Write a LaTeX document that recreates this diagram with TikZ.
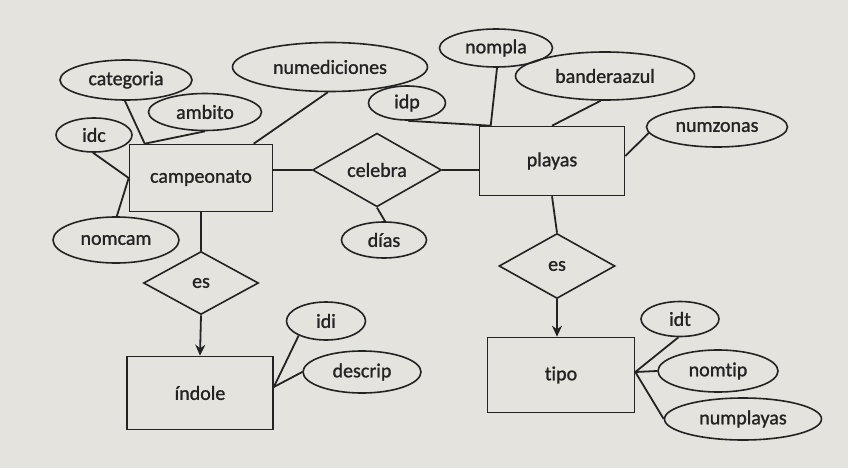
\documentclass[tikz,border=0pt]{standalone}
\usepackage{fontspec}
\setmainfont{Carlito}[Ligatures=NoCommon, FakeBold=1.2]
\usetikzlibrary{shapes.geometric,arrows.meta,calc}
\definecolor{paper}{RGB}{228,227,222}
\definecolor{ink}{RGB}{35,35,35}
\tikzset{
  every node/.style={font=\fontsize{20}{22}\selectfont, text=ink},
  ent/.style={draw=ink, line width=1.6pt, rectangle, inner sep=0pt},
  attr/.style={draw=ink, line width=1.6pt, ellipse, inner sep=0pt},
  rel/.style={draw=ink, line width=1.6pt, diamond, inner sep=0pt},
  link/.style={draw=ink, line width=1.8pt},
  isa/.style={draw=ink, line width=1.8pt, -{Stealth[length=11pt,width=10pt]}}
}
\begin{document}
\begin{tikzpicture}[x=1pt,y=-1pt]
\fill[paper] (0,0) rectangle (848,468);
\useasboundingbox (0,0) rectangle (848,468);
% entities
\node[ent, minimum width=143pt, minimum height=67pt] (camp) at (201,178) {campeonato};
\node[ent, minimum width=145pt, minimum height=69pt] (playas) at (552,161) {playas};
\node[ent, minimum width=146pt, minimum height=73pt] (indole) at (200,393) {índole};
\node[ent, minimum width=147pt, minimum height=75pt] (tipo) at (561,375) {tipo};
% relationships
\node[rel, minimum width=129pt, minimum height=62pt] (celebra) at (377,170) {celebra};
\node[rel, minimum width=115pt, minimum height=63pt] (es1) at (201,283) {es};
\node[rel, minimum width=116pt, minimum height=65pt] (es2) at (557,266) {es};
% attributes
\node[attr, minimum width=132pt, minimum height=40pt] (categoria) at (126,80) {categoria};
\node[attr, minimum width=113pt, minimum height=37pt] (ambito) at (205,112) {ambito};
\node[attr, minimum width=76pt, minimum height=34pt] (idc) at (94,135) {idc};
\node[attr, minimum width=195pt, minimum height=49pt] (numed) at (330,67) {numediciones};
\node[attr, minimum width=126pt, minimum height=46pt] (nomcam) at (116,240) {nomcam};
\node[attr, minimum width=85pt, minimum height=36pt] (dias) at (384,240) {días};
\node[attr, minimum width=77pt, minimum height=34pt] (idp) at (407,103) {idp};
\node[attr, minimum width=113pt, minimum height=38pt] (nompla) at (496,48) {nompla};
\node[attr, minimum width=179pt, minimum height=48pt] (bandera) at (605,76) {banderaazul};
\node[attr, minimum width=141pt, minimum height=40pt] (numzonas) at (717,127) {numzonas};
\node[attr, minimum width=79pt, minimum height=38pt] (idi) at (326,321) {idi};
\node[attr, minimum width=118pt, minimum height=42pt] (descrip) at (362,372) {descrip};
\node[attr, minimum width=78pt, minimum height=35pt] (idt) at (680,319) {idt};
\node[attr, minimum width=120pt, minimum height=42pt] (nomtip) at (718,371) {nomtip};
\node[attr, minimum width=157pt, minimum height=42pt] (numplayas) at (743,419) {numplayas};
% helper points
\coordinate (campTL) at ($(camp.north west)+(16,0)$);
\coordinate (campTR) at ($(camp.north west)+(125,0)$);
\coordinate (playTL) at ($(playas.north west)+(12,0)$);
\coordinate (playR) at ($(playas.east)+(0,-5)$);
\coordinate (indR) at ($(indole.east)+(0,-6)$);
\coordinate (tipR) at ($(tipo.east)+(0,-3)$);
% campeonato attributes
\draw[link] (categoria.-93) -- (campTL);
\draw[link] (ambito.-90) -- (campTL);
\draw[link] (numed.-95) -- (campTR);
\draw[link] (idc.-93) -- (camp.west);
\draw[link] (nomcam.88) -- (camp.west);
% celebra
\draw[link] (celebra.west) -- (celebra.west -| camp.east);
\draw[link] (celebra.east) -- (celebra.east -| playas.west);
\draw[link] (celebra.south) -- (dias.87);
% playas attributes
\draw[link] (idp.-87) -- (playTL);
\draw[link] (nompla.-87) -- (playTL);
\draw[link] (bandera.-100) -- (playas.north);
\draw[link] (numzonas.185) -- (playR);
% es relationships
\draw[link] (camp.south) -- (es1.north);
\draw[isa] (es1.south) -- (indole.north);
\draw[link] (playas.south) -- (es2.north);
\draw[isa] (es2.south) -- (es2.south |- tipo.north);
% indole attributes
\draw[link] (idi.208) -- (indR);
\draw[link] (descrip.180) -- (indR);
% tipo attributes
\draw[link] (idt.-95) -- (tipR);
\draw[link] (nomtip.180) -- (tipR);
\draw[link] (numplayas.180) -- (tipR);
\end{tikzpicture}
\end{document}
